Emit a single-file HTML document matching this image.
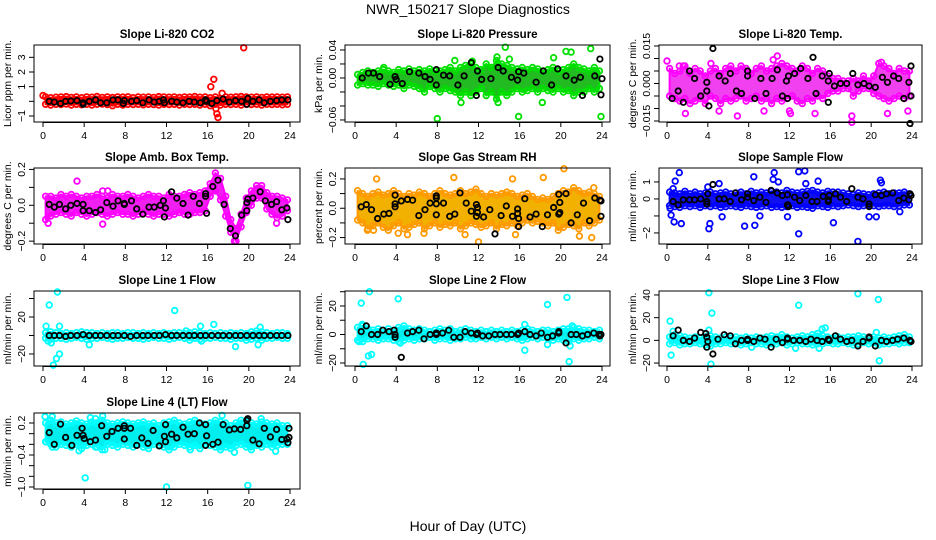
<!DOCTYPE html>
<html><head><meta charset="utf-8"><style>
html,body{margin:0;padding:0;background:#fff}
svg{display:block}
text{font-family:"Liberation Sans",sans-serif;fill:#000}
</style></head><body>
<svg id="chart" width="936" height="540" viewBox="0 0 936 540" xmlns="http://www.w3.org/2000/svg">
<text x="468" y="14" text-anchor="middle" font-size="14">NWR_150217  Slope Diagnostics</text>
<text x="468" y="531" text-anchor="middle" font-size="14">Hour of Day (UTC)</text>
</svg>
<script>
const xTicks=[0,4,8,12,16,20,24];
const co2Hi=[0.3,0.25,0.28,0.3,0.32,0.27,0.3,0.25,0.3,0.28,0.33,0.27,0.3,0.26,0.3,0.29,0.31,0.25,0.3,0.28,0.3,0.27,0.32,0.3,0.28,0.3,0.26,0.3,0.29,0.33,0.28,0.3,0.25,0.3,0.2,0.3,0.28,0.31,0.33,0.3,0.28,0.3,0.27,0.3,0.29,0.3,0.28,0.3];
const co2Lo=[-0.2,-0.25,-0.2,-0.22,-0.18,-0.25,-0.2,-0.23,-0.2,-0.25,-0.2,-0.18,-0.22,-0.3,-0.2,-0.25,-0.2,-0.22,-0.2,-0.24,-0.2,-0.22,-0.25,-0.2,-0.22,-0.2,-0.25,-0.2,-0.22,-0.2,-0.25,-0.2,-0.3,-0.2,-0.25,-0.2,-0.22,-0.2,-0.25,-0.2,-0.22,-0.2,-0.25,-0.2,-0.22,-0.2,-0.24,-0.2];
const co2Out=[[16.3,1.0],[16.6,1.5],[16.8,-0.5],[16.9,-0.85],[17.0,-1.1],[17.4,0.55],[19.5,3.65],[0,0.4]];
const co2Blk=[[0.6,0],[1.1,-0.05],[1.7,-0.15],[2.2,0],[2.7,0.02],[3.3,0.05],[3.9,-0.1],[3.9,-0.2],[4.5,0],[5.1,0.1],[5.6,-0.1],[6.2,-0.1],[6.8,0.1],[7.3,0.1],[7.8,-0.15],[7.9,0.05],[8.6,0],[9.1,0.05],[9.7,-0.1],[10.3,0.1],[10.8,-0.05],[11.3,0],[11.7,0.1],[11.8,-0.1],[12.5,0],[13,-0.05],[13.6,-0.1],[14.2,0],[14.7,-0.05],[15.3,-0.1],[15.8,0.1],[15.9,0],[16.4,-0.15],[16.9,0.05],[17.5,0.15],[18.1,-0.05],[18.7,0.05],[19.3,0],[19.8,-0.2],[19.9,0.2],[20.4,0],[21,0.1],[21.5,-0.1],[22.1,0],[22.7,0.05],[23.2,0.1],[23.8,0.1]];
const prHi=[0.005,0.008,0.01,0.008,0.01,0.012,0.01,0.008,0.012,0.01,0.013,0.01,0.012,0.01,0.013,0.01,0.01,0.012,0.015,0.01,0.015,0.018,0.02,0.015,0.012,0.02,0.015,0.025,0.02,0.018,0.015,0.013,0.015,0.012,0.015,0.013,0.01,0.012,0.015,0.01,0.012,0.015,0.02,0.015,0.013,0.01,0.015,0.01];
const prLo=[-0.01,-0.008,-0.01,-0.01,-0.012,-0.008,-0.01,-0.012,-0.01,-0.015,-0.01,-0.012,-0.015,-0.02,-0.012,-0.015,-0.02,-0.015,-0.018,-0.02,-0.025,-0.02,-0.025,-0.02,-0.015,-0.025,-0.02,-0.03,-0.02,-0.025,-0.02,-0.015,-0.02,-0.018,-0.015,-0.02,-0.015,-0.018,-0.02,-0.015,-0.02,-0.018,-0.025,-0.02,-0.02,-0.015,-0.02,-0.015];
const prOut=[[2.8,0.015],[8,-0.058],[10.3,-0.035],[11.4,0.024],[13.8,0.03],[13.9,-0.035],[14.6,0.044],[15,0.027],[15.9,-0.055],[18.2,-0.035],[19.3,0.029],[20.5,0.038],[21,0.037],[22.9,0.042],[23.9,-0.055],[9.7,0.025]];
const prBlk=[[0.7,0],[1.3,0.007],[1.8,0.007],[2.4,0.002],[3.4,-0.009],[3.9,0.002],[4,-0.002],[4.6,-0.008],[5.3,0.009],[6.2,0.007],[6.8,0.002],[7.3,-0.002],[7.9,0.012],[7.9,-0.01],[8.6,0.004],[9.2,0.003],[10,-0.01],[10.6,0.003],[11.3,0.022],[11.8,-0.025],[11.9,0.01],[12.3,-0.002],[13.2,-0.001],[13.9,0.015],[14.4,0.01],[15.2,0.001],[15.8,-0.003],[15.9,0.009],[16.4,0.007],[17.6,-0.006],[18.3,0.01],[19.1,-0.01],[19.7,0.013],[20.5,0.003],[21.3,-0.003],[21.9,0.001],[22.1,-0.025],[23.3,0.003],[23.8,0.027],[23.9,-0.024],[24,-0.001]];
const ltHi=[0.006,0.004,0.005,0.007,0.004,0.006,0.005,0.003,0.005,0.006,0.004,0.006,0.007,0.005,0.007,0.006,0.004,0.006,0.007,0.005,0.006,0.007,0.008,0.007,0.006,0.005,0.007,0.006,0.004,0.006,0.005,0.003,0.002,0.002,0.001,0.001,0.002,0.001,0.003,0.001,0.003,0.008,0.007,0.006,0.004,0.006,0.005,0.005];
const ltLo=[-0.005,-0.006,-0.007,-0.006,-0.008,-0.007,-0.006,-0.008,-0.005,-0.006,-0.008,-0.006,-0.007,-0.006,-0.005,-0.007,-0.006,-0.005,-0.007,-0.006,-0.008,-0.006,-0.007,-0.006,-0.005,-0.007,-0.008,-0.006,-0.007,-0.005,-0.006,-0.004,-0.003,-0.003,-0.002,-0.002,-0.005,-0.003,-0.002,-0.002,-0.004,-0.005,-0.006,-0.007,-0.006,-0.005,-0.006,-0.005];
const ltOut=[[0,0.009],[1.2,0.007],[1.6,0.007],[1.8,-0.012],[4.3,0.008],[5.1,-0.011],[6.9,-0.013],[9.5,-0.011],[10.4,0.0095],[10.8,0.011],[12,-0.011],[12.1,-0.012],[14.5,-0.012],[18.1,-0.013],[18.1,-0.0155],[21,0.0085],[21.6,-0.012],[23.6,-0.011]];
const ltBlk=[[0.5,-0.006],[1.1,-0.003],[1.6,-0.0075],[2.2,0.005],[2.7,0.002],[3.3,-0.005],[3.9,-0.003],[3.9,0.0005],[4.1,-0.009],[4.5,0.014],[5.1,0.003],[5.7,0.001],[6.2,0.004],[6.8,-0.003],[7.3,-0.004],[7.9,0.005],[7.9,0.003],[8.6,-0.006],[9.2,0.002],[9.7,-0.004],[10.3,0.002],[10.8,0.0055],[11.3,-0.005],[11.7,0.001],[11.8,-0.006],[11.9,0.003],[12.5,0.004],[13.1,0.006],[13.8,0.002],[14.3,0.0105],[14.6,-0.004],[15.2,0.003],[15.8,0.001],[15.8,-0.0075],[15.9,0.004],[16.4,-0.001],[17,0],[17.6,0],[18.2,0.004],[18.7,-0.0005],[19.3,0],[19.8,-0.001],[20.4,-0.0015],[21.1,0.0025],[21.6,0.0005],[22.2,0.003],[22.7,0.002],[23.2,-0.006],[23.7,0.0005],[23.8,-0.016],[23.9,-0.005],[23.9,0.007]];
const abHi=[0.05,0.05,0.04,0.06,0.05,0.06,0.05,0.04,0.05,0.05,0.06,0.05,0.04,0.06,0.05,0.05,0.06,0.05,0.04,0.05,0.06,0.05,0.05,0.04,0.06,0.05,0.05,0.06,0.07,0.06,0.07,0.08,0.12,0.18,0.15,0.05,-0.08,-0.13,-0.05,0.04,0.08,0.11,0.11,0.07,0.05,0.05,0.04,0.03];
const abLo=[-0.08,-0.06,-0.05,-0.04,-0.05,-0.06,-0.04,-0.05,-0.06,-0.05,-0.04,-0.05,-0.06,-0.05,-0.04,-0.05,-0.05,-0.06,-0.05,-0.04,-0.05,-0.06,-0.05,-0.05,-0.06,-0.05,-0.04,-0.05,-0.05,-0.04,-0.04,-0.03,0.05,0.08,0.03,-0.06,-0.15,-0.2,-0.12,-0.04,0.0,0.04,0.04,-0.02,-0.05,-0.07,-0.06,-0.03];
const abOut=[[3.3,0.135],[5.8,0.08],[6.3,0.08],[5.8,-0.105],[0.5,-0.1],[18.6,-0.2],[22.7,-0.1]];
const abBlk=[[0.6,0.005],[1.1,-0.01],[1.6,0.005],[2.2,-0.02],[2.7,0],[3.3,0.01],[3.9,0.005],[3.9,-0.03],[4.5,-0.03],[5.1,-0.04],[5.6,-0.025],[6.2,0.015],[6.8,-0.005],[7.3,0.025],[7.9,0.005],[7.9,0.01],[8.6,0.025],[9.1,-0.02],[9.7,-0.05],[10.3,-0.01],[10.8,-0.01],[11.4,0],[11.7,0.025],[11.8,-0.065],[11.9,-0.015],[12.5,0.075],[13,0.04],[13.6,0.01],[14.1,-0.055],[14.6,0.05],[15.2,0.01],[15.8,0.05],[15.8,0.065],[15.9,-0.045],[16.5,0.105],[17,0.14],[17.6,0.005],[18.2,-0.13],[18.7,-0.17],[19.3,-0.055],[19.8,-0.03],[19.8,0.015],[19.9,0.035],[20.4,0.04],[21.1,0.075],[21.6,0.025],[22.2,0.005],[22.7,0.02],[23.2,-0.025],[23.7,-0.015],[23.8,-0.08]];
const rhHi=[0.12,0.1,0.08,0.1,0.11,0.09,0.1,0.12,0.1,0.08,0.1,0.09,0.11,0.1,0.08,0.1,0.12,0.1,0.09,0.1,0.12,0.1,0.11,0.13,0.1,0.08,0.1,0.09,0.1,0.11,0.1,0.08,0.09,0.1,0.08,0.06,0.07,0.06,0.08,0.1,0.12,0.11,0.14,0.12,0.1,0.11,0.1,0.08];
const rhLo=[-0.08,-0.1,-0.14,-0.12,-0.1,-0.13,-0.15,-0.12,-0.1,-0.14,-0.13,-0.11,-0.1,-0.14,-0.12,-0.1,-0.13,-0.11,-0.12,-0.1,-0.14,-0.12,-0.1,-0.11,-0.13,-0.12,-0.1,-0.14,-0.11,-0.12,-0.1,-0.12,-0.1,-0.08,-0.1,-0.09,-0.1,-0.12,-0.1,-0.15,-0.13,-0.11,-0.12,-0.14,-0.1,-0.12,-0.1,-0.08];
const rhOut=[[2.1,0.2],[4.2,-0.17],[5.1,-0.18],[6.7,-0.17],[9.6,0.21],[10.7,-0.18],[12,-0.23],[15.3,0.2],[15.6,-0.18],[18.3,0.21],[20.3,0.27],[21.8,-0.19],[23,-0.2],[1.2,-0.15],[1.8,-0.15],[23.2,0.14]];
const rhBlk=[[0.6,0.01],[1.1,0.025],[1.6,-0.01],[2.2,-0.07],[2.8,-0.04],[3.3,-0.035],[3.9,0.01],[3.9,0.03],[3.9,0.09],[4.5,0.05],[5.1,0.06],[5.6,0.055],[6.2,-0.05],[6.8,-0.01],[7.3,0.035],[7.9,0.07],[7.9,0.085],[7.9,-0.045],[7.9,0.03],[8.6,0.035],[9.2,-0.055],[9.7,-0.04],[10.2,0.105],[10.8,0.035],[11.3,-0.02],[11.8,-0.055],[11.8,0.025],[11.9,-0.03],[11.9,0.005],[12.5,-0.06],[13.1,-0.01],[13.6,-0.175],[14.2,-0.05],[14.7,0.015],[15.3,-0.055],[15.8,-0.005],[15.8,-0.035],[15.9,-0.07],[15.9,-0.125],[16.5,0.065],[17,-0.06],[17.6,-0.04],[18.2,-0.125],[18.7,-0.045],[19.3,0.005],[19.8,-0.04],[19.8,0.095],[19.9,0.04],[19.9,-0.03],[20.5,0.1],[21,-0.1],[21.6,-0.045],[22.2,0.035],[22.8,-0.085],[23.3,0.07],[23.8,0.055],[23.9,-0.055],[23.9,0.05]];
const sfHi=[0.4,0.35,0.3,0.45,0.3,0.4,0.3,0.35,0.4,0.3,0.35,0.4,0.3,0.35,0.4,0.3,0.45,0.35,0.4,0.35,0.45,0.4,0.35,0.5,0.4,0.35,0.4,0.45,0.5,0.4,0.35,0.45,0.4,0.4,0.35,0.3,0.25,0.35,0.3,0.25,0.3,0.35,0.4,0.3,0.35,0.35,0.4,0.3];
const sfLo=[-0.4,-0.45,-0.5,-0.4,-0.45,-0.4,-0.5,-0.4,-0.45,-0.4,-0.5,-0.45,-0.4,-0.45,-0.5,-0.4,-0.45,-0.5,-0.45,-0.4,-0.5,-0.45,-0.5,-0.45,-0.4,-0.5,-0.45,-0.5,-0.55,-0.4,-0.45,-0.5,-0.4,-0.45,-0.4,-0.35,-0.4,-0.45,-0.4,-0.35,-0.4,-0.45,-0.4,-0.4,-0.45,-0.4,-0.35,-0.35];
const sfOut=[[1.2,1.55],[0.8,1.05],[0.6,0.6],[0.3,-0.55],[0.4,-0.95],[0.7,-1.35],[1.4,-1.45],[4.1,-1.75],[4.2,-1.45],[5.1,0.9],[5.4,-1.05],[7.6,-1.6],[8.5,1.3],[8.6,-1.55],[9.1,-1.0],[10.5,1.55],[10.4,1.15],[10.9,1.0],[11.8,-1.05],[12.9,1.6],[13.5,1.65],[12.9,-2.05],[13.6,0.9],[14.8,1.05],[16.3,-1.4],[18.7,-2.5],[19.8,-1.05],[20.5,-1.05],[20.9,1.1],[21.0,0.95],[22.8,-0.75],[4,0.7]];
const sfBlk=[[0.6,-0.15],[1.1,-0.35],[1.6,-0.05],[2.2,-0.05],[2.7,-0.05],[3.3,0],[3.9,-0.3],[3.9,-0.15],[4,0.3],[4.5,0.85],[5.1,0],[5.6,0],[6.2,-0.15],[6.7,0.35],[7.3,-0.05],[7.9,0.3],[7.9,0.1],[8.5,-0.1],[9.1,0.1],[9.7,-0.2],[10.2,0.5],[10.8,0.35],[11.3,0.2],[11.8,0.25],[11.8,-0.35],[11.9,-0.45],[12.5,0.1],[13,-0.1],[13.6,0.2],[14.2,-0.15],[14.7,-0.15],[15.3,0.15],[15.8,-0.05],[15.8,-0.15],[15.9,0.2],[16.5,0.3],[17,0.1],[17.6,-0.15],[18.1,0.6],[18.7,0.1],[19.2,0],[19.8,-0.3],[19.8,-0.45],[20.4,0.25],[21,0.2],[21.5,0.3],[22.1,0.35],[22.7,-0.1],[23.2,0.05],[23.7,-0.05],[23.8,0.3],[23.9,0.2]];
const l1Hi=[3,4,3,2,3,2,3,4,3,3,2,3,2,3,3,2,3,3,2,3,2,3,2,3,2,3,3,2,3,4,3,2,3,2,3,2,3,2,3,2,4,5,4,3,2,3,3,2];
const l1Lo=[-3,-4,-3,-3,-4,-3,-2,-3,-4,-3,-3,-2,-3,-4,-3,-3,-2,-3,-3,-4,-3,-2,-3,-3,-4,-3,-2,-3,-5,-3,-4,-3,-3,-2,-3,-3,-4,-3,-3,-5,-4,-3,-5,-3,-3,-2,-3,-3];
const l1Out=[[0.3,10],[0.6,33],[1.4,47],[0.8,-8],[1.0,-32],[1.3,-25],[1.6,-20],[0.5,-6],[1.6,10],[4.5,-10],[12.8,27],[15.3,10],[16.6,12],[18.7,-12],[20.9,-10],[21.1,9],[13.9,5],[15.4,-6]];
const l1Blk=[[0.6,0],[1.1,0],[1.6,0],[2.2,-1],[2.7,0],[3.3,0],[3.9,1],[4.5,0],[5.1,0],[5.6,0],[6.2,0],[6.8,0],[7.3,0],[7.9,0],[8.5,-1],[9.1,0],[9.7,0],[10.2,0],[10.8,0],[11.3,0],[11.9,1],[12.5,0],[13,0],[13.6,0],[14.2,0],[14.7,0],[15.3,0],[15.8,0],[16.4,0],[17,0],[17.5,0],[18.1,0],[18.7,0],[19.2,0],[19.8,0],[20.4,0],[21,0],[21.5,0],[22.1,0],[22.7,0],[23.2,0],[23.8,0]];
const l2Hi=[5,6,4,3,4,3,4,3,5,6,4,3,4,3,2,3,4,3,4,2,3,4,3,2,3,2,3,2,3,2,3,2,3,4,3,2,3,3,2,3,4,4,5,4,3,3,2,3];
const l2Lo=[-4,-5,-3,-3,-4,-3,-3,-4,-5,-4,-3,-4,-3,-3,-2,-4,-3,-3,-4,-3,-3,-2,-3,-3,-2,-3,-2,-3,-2,-3,-2,-3,-4,-3,-2,-3,-2,-3,-4,-3,-4,-5,-3,-4,-3,-3,-2,-3];
const l2Out=[[0.6,22],[1.4,30],[0.8,-21],[1.3,-15],[1.6,-14],[0.4,-5],[4.2,25],[4.4,-6],[16.5,-11],[16.5,7],[18.7,21],[18.7,-7],[20.6,26],[20.8,-19],[20.9,-8],[21.1,6],[0.7,7]];
const l2Blk=[[0.6,2],[1.1,6],[1.6,0],[2.2,0],[2.7,3],[3.3,2],[3.8,3],[3.9,0],[3.9,-2],[4.5,-16],[5.1,1],[5.6,2],[6.2,3],[6.7,-3],[7.3,0],[7.9,0],[7.9,1],[8.5,1],[9.1,3],[9.6,-2],[10.2,-2],[10.7,2],[11.3,1],[11.8,0],[11.9,1],[12.4,-1],[13,-1],[13.6,0],[14.1,0],[14.7,0],[15.2,0],[15.8,0],[15.9,1],[16.5,2],[17,0],[17.6,-1],[18.1,1],[18.7,-2],[19.2,-1],[19.8,1],[19.8,2],[20.5,-6],[21,0],[21.5,0],[22.1,-1],[22.6,0],[23.2,1],[23.7,0],[23.8,-1],[23.9,0]];
const l3Hi=[3,5,4,3,2,3,2,3,4,3,2,3,2,3,2,3,2,3,2,3,4,3,5,3,2,3,4,3,5,6,4,3,2,3,2,3,3,4,3,2,3,2,3,2,3,4,5,3];
const l3Lo=[-3,-2,-4,-3,-3,-2,-3,-4,-5,-3,-3,-2,-3,-3,-4,-3,-2,-3,-3,-4,-3,-3,-2,-4,-3,-2,-3,-3,-4,-3,-3,-2,-3,-3,-2,-3,-4,-3,-2,-3,-2,-4,-3,-3,-2,-3,-2,-2];
const l3Out=[[0.3,17],[0.4,-13],[0.6,8],[4.1,42],[4.3,-21],[4.4,24],[4.1,9],[12.9,31],[15.2,10],[15.5,11],[18.7,41],[20.7,36],[20.8,-18],[20.5,7],[12.6,-7],[14.9,-7],[8.3,-6]];
const l3Blk=[[0.6,4],[1.1,9],[1.6,0],[2.2,-1],[2.7,2],[3.3,7],[3.8,6],[3.9,3],[3.9,-6],[4,-1],[4.5,-12],[5,1],[5.6,5],[6.2,4],[6.7,-3],[7.3,0],[7.9,1],[7.9,0],[8.5,-1],[9.1,2],[9.6,1],[10.2,-6],[10.7,1],[11.3,-2],[11.8,1],[11.8,2],[12.4,0],[13,0],[13.6,-1],[14.1,1],[14.7,0],[15.2,-1],[15.8,1],[15.9,0],[16.5,4],[17,1],[17.6,-1],[18.1,0],[18.7,-5],[19.2,-1],[19.8,2],[19.8,3],[20.4,-5],[21,0],[21.5,-1],[22.1,0],[22.6,1],[23.2,2],[23.8,0],[23.9,-1]];
const l4Hi=[0.2,0.25,0.2,0.22,0.18,0.2,0.24,0.2,0.18,0.22,0.2,0.25,0.2,0.18,0.2,0.22,0.2,0.18,0.2,0.22,0.18,0.2,0.15,0.2,0.22,0.25,0.2,0.18,0.22,0.25,0.2,0.18,0.2,0.25,0.22,0.2,0.15,0.2,0.25,0.22,0.2,0.18,0.22,0.2,0.18,0.2,0.15,0.15];
const l4Lo=[-0.15,-0.2,-0.25,-0.2,-0.22,-0.25,-0.2,-0.28,-0.22,-0.2,-0.25,-0.3,-0.2,-0.22,-0.25,-0.2,-0.22,-0.25,-0.2,-0.25,-0.28,-0.2,-0.22,-0.25,-0.3,-0.25,-0.2,-0.22,-0.25,-0.22,-0.28,-0.2,-0.22,-0.25,-0.3,-0.25,-0.28,-0.22,-0.2,-0.25,-0.3,-0.22,-0.25,-0.2,-0.25,-0.22,-0.2,-0.2];
const l4Out=[[0.2,0.32],[0.9,0.32],[0.3,-0.15],[0.9,-0.25],[3.5,-0.32],[4.1,-0.83],[4.6,0.3],[5.1,0.28],[5.8,0.33],[5.1,-0.25],[6,-0.3],[12,-1.0],[17.4,0.34],[18.6,-0.35],[19.9,-0.97],[21.2,0.28],[22.6,-0.33],[14.3,-0.3]];
const l4Blk=[[0.6,0.02],[1.1,-0.2],[1.7,0.18],[2.2,-0.07],[2.8,-0.22],[3.3,-0.03],[3.8,0.1],[3.9,-0.03],[4,-0.09],[4.6,-0.15],[5.1,-0.12],[5.7,0.15],[6.2,-0.05],[6.7,0.04],[7.3,0.1],[7.9,0.1],[7.9,0.15],[7.9,-0.1],[8.5,0.1],[9.1,-0.22],[9.6,-0.08],[10.2,-0.18],[10.7,0.06],[11.3,-0.23],[11.8,-0.05],[11.9,-0.15],[11.9,0.17],[12.5,-0.01],[13,-0.08],[13.6,0.12],[14.1,-0.01],[14.7,0],[15.2,0.2],[15.8,0.17],[15.8,-0.22],[15.9,-0.04],[16.5,-0.2],[17,-0.16],[17.5,0.17],[18.1,0.07],[18.6,0.09],[19.2,0.08],[19.8,0.25],[19.8,0.15],[19.9,0.28],[20.4,-0.12],[21,-0.19],[21.5,0.1],[22.1,-0.06],[22.7,0.08],[23.2,-0.11],[23.7,-0.1],[23.8,-0.17],[23.9,-0.07],[23.9,0.1]];

const cols=[{L:34,R:300,x0:43,x24:290},{L:345,R:610,x0:355,x24:602},{L:659,R:922,x0:667,x24:912}];
const rows=[{T:45,B:122},{T:168,B:244},{T:291,B:366},{T:413,B:489}];
const panels=[
 {c:0,r:0,name:'co2',title:'Slope Li-820 CO2',ylab:'Licor ppm per min.',dom:[-1.41,3.84],ticks:[-1,0,1,2,3],labs:['\u22121','','1','2','3'],col:'#ff0000',band:'#ee0000',hi:co2Hi,lo:co2Lo,out:co2Out,blk:co2Blk},
 {c:1,r:0,name:'pressure',title:'Slope Li-820 Pressure',ylab:'kPa per min.',dom:[-0.0629,0.0471],ticks:[-0.06,-0.04,-0.02,0,0.02,0.04],labs:['\u22120.06','','','0.00','','0.04'],col:'#00e000',band:'#22bb22',hi:prHi,lo:prLo,out:prOut,blk:prBlk},
 {c:2,r:0,name:'li820-temp',title:'Slope Li-820 Temp.',ylab:'degrees C per min.',dom:[-0.0154,0.0154],ticks:[-0.015,-0.01,-0.005,0,0.005,0.01,0.015],labs:['\u22120.015','','','0.000','','','0.015'],col:'#ff00ff',band:'#f040f0',hi:ltHi,lo:ltLo,out:ltOut,blk:ltBlk},
 {c:0,r:1,name:'amb-box-temp',title:'Slope Amb. Box Temp.',ylab:'degrees C per min.',dom:[-0.216,0.208],ticks:[-0.2,-0.1,0,0.1,0.2],labs:['\u22120.2','','0.0','','0.2'],col:'#ff00ff',band:'#f020f0',hi:abHi,lo:abLo,out:abOut,blk:abBlk},
 {c:1,r:1,name:'gas-rh',title:'Slope Gas Stream RH',ylab:'percent per min.',dom:[-0.244,0.2746],ticks:[-0.2,-0.1,0,0.1,0.2],labs:['\u22120.2','','0.0','','0.2'],col:'#ff9900',band:'#f2b000',hi:rhHi,lo:rhLo,out:rhOut,blk:rhBlk},
 {c:2,r:1,name:'sample-flow',title:'Slope Sample Flow',ylab:'ml/min per min.',dom:[-2.65,1.82],ticks:[-2,-1,0,1],labs:['\u22122','','0','1'],col:'#0000ff',band:'#1010ee',hi:sfHi,lo:sfLo,out:sfOut,blk:sfBlk},
 {c:0,r:2,name:'line1-flow',title:'Slope Line 1 Flow',ylab:'ml/min per min.',dom:[-33,48.1],ticks:[-20,0,20,40],labs:['\u221220','','20',''],col:'#00ffff',band:'#00eeee',hi:l1Hi,lo:l1Lo,out:l1Out,blk:l1Blk},
 {c:1,r:2,name:'line2-flow',title:'Slope Line 2 Flow',ylab:'ml/min per min.',dom:[-22.1,30.5],ticks:[-20,-10,0,10,20,30],labs:['\u221220','','0','','20',''],col:'#00ffff',band:'#00eeee',hi:l2Hi,lo:l2Lo,out:l2Out,blk:l2Blk},
 {c:2,r:2,name:'line3-flow',title:'Slope Line 3 Flow',ylab:'ml/min per min.',dom:[-22.6,43.5],ticks:[-20,0,20,40],labs:['\u221220','0','20','40'],col:'#00ffff',band:'#00eeee',hi:l3Hi,lo:l3Lo,out:l3Out,blk:l3Blk},
 {c:0,r:3,name:'line4-flow',title:'Slope Line 4 (LT) Flow',ylab:'ml/min per min.',dom:[-1.0375,0.3875],ticks:[-1.0,-0.8,-0.6,-0.4,-0.2,0,0.2],labs:['\u22121.0','','','\u22120.4','','','0.2'],col:'#00ffff',band:'#00eeee',hi:l4Hi,lo:l4Lo,out:l4Out,blk:l4Blk}
];
const NS='http://www.w3.org/2000/svg';
const svg=document.getElementById('chart');
function mk(tag,attrs,parent){const e=document.createElementNS(NS,tag);for(const k in attrs)e.setAttribute(k,attrs[k]);parent.appendChild(e);return e;}
panels.forEach(p=>{
 const C=cols[p.c],R=rows[p.r];
 const g=mk('g',{},svg);
 
 
 const xs=h=>C.x0+(C.x24-C.x0)*h/24;
 const ys=v=>R.B-(v-p.dom[0])/(p.dom[1]-p.dom[0])*(R.B-R.T);
 const cx=(C.L+C.R)/2;
 const t=mk('text',{x:cx,y:R.T-7,'text-anchor':'middle','font-size':'11.5','font-weight':'bold'},g);
 t.textContent=p.title;
 
 
 const n=p.hi.length;
 let d='';
 p.hi.forEach((v,i)=>{d+=(i?'L':'M')+xs(0.25+i*24/n).toFixed(1)+' '+ys(v).toFixed(1);});
 for(let i=n-1;i>=0;i--){d+='L'+xs(0.25+i*24/n).toFixed(1)+' '+ys(p.lo[i]).toFixed(1);}
 const band=mk('path',{d:d+'Z',fill:p.band,stroke:p.col,'stroke-width':'2','stroke-linejoin':'round'},g);
 
 
 const drawPt=(h,v,color,sw,r,nm)=>{const c=mk('circle',{cx:xs(h).toFixed(1),cy:ys(v).toFixed(1),r:r,fill:'none',stroke:color,'stroke-width':sw},g);
  
  };
 p.hi.forEach((v,i)=>drawPt(0.25+i*24/n,v,p.col,1.8,2.8,'data-point'));
 p.lo.forEach((v,i)=>drawPt(0.25+i*24/n,v,p.col,1.8,2.8,'data-point'));
 p.out.forEach(q=>drawPt(q[0],q[1],p.col,1.8,2.8,'outlier-point'));
 p.blk.forEach(q=>drawPt(q[0],q[1],'#000',1.8,2.7,'reference-point'));
 const box=mk('rect',{x:C.L,y:R.T,width:C.R-C.L,height:R.B-R.T,fill:'none',stroke:'#000','stroke-width':'1'},g);
 
 
 xTicks.forEach(h=>{mk('line',{x1:xs(h),x2:xs(h),y1:R.B,y2:R.B+5,stroke:'#000'},g);
  const tl=mk('text',{x:xs(h),y:R.B+17,'text-anchor':'middle','font-size':'10.5'},g);tl.textContent=h;
  
  });
 mk('line',{x1:xs(0),x2:xs(24),y1:R.B+0.5,y2:R.B+0.5,stroke:'#000'},g);
 p.ticks.forEach((v,i)=>{const y=ys(v);mk('line',{x1:C.L-5,x2:C.L,y1:y,y2:y,stroke:'#000'},g);
  if(p.labs[i]){const tl=mk('text',{x:0,y:0,'text-anchor':'middle','font-size':'10.5',transform:`translate(${C.L-9},${y}) rotate(-90)`},g);tl.textContent=p.labs[i];
  
  }});
 const yl=mk('text',{x:0,y:0,'text-anchor':'middle','font-size':'10.5',transform:`translate(${C.L-23},${(R.T+R.B)/2}) rotate(-90)`},g);
 yl.textContent=p.ylab;
 
 
});
</script>
</body></html>
